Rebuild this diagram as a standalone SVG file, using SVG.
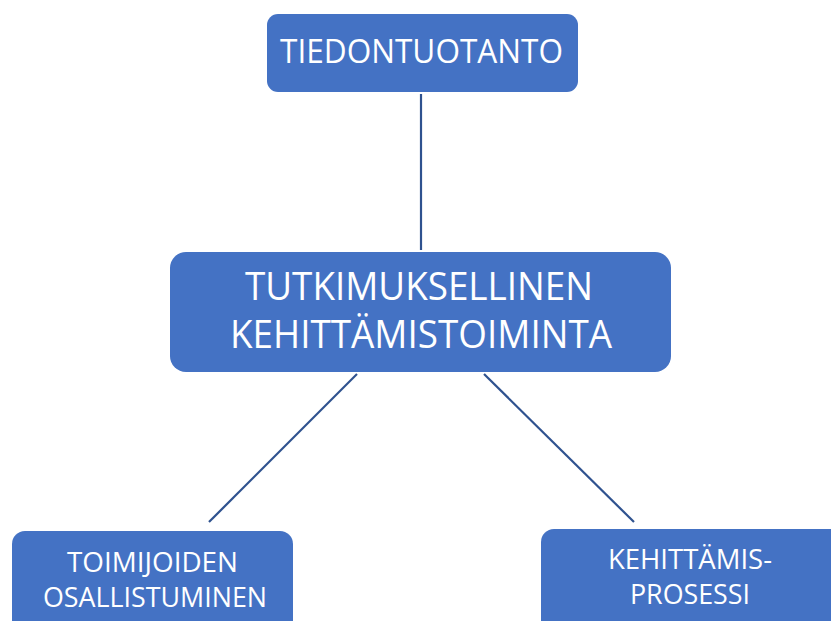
<svg xmlns="http://www.w3.org/2000/svg" width="831" height="621" viewBox="0 0 831 621">
<style>
.box{fill:#4472C4;}
.t{fill:#ffffff;font-family:"Open Sans","Liberation Sans",sans-serif;text-anchor:middle;}
.c{stroke:#2F528F;stroke-width:2.2;fill:none;}
</style>
<rect width="831" height="621" fill="#ffffff"/>
<g id="connectors">
<line class="c" x1="421" y1="94" x2="421" y2="250"/>
<line class="c" x1="357" y1="374" x2="209" y2="522"/>
<line class="c" x1="484" y1="374" x2="634" y2="522"/>
</g>
<g id="node-tiedontuotanto">
<rect class="box" x="267" y="14" width="311" height="78" rx="11"/>
<text class="t" x="421.5" y="63" font-size="33.5" textLength="283" lengthAdjust="spacingAndGlyphs">TIEDONTUOTANTO</text>
</g>
<g id="node-tutkimuksellinen">
<rect class="box" x="170" y="252" width="501" height="120" rx="16"/>
<text class="t" x="419" y="300" font-size="39" textLength="348" lengthAdjust="spacingAndGlyphs">TUTKIMUKSELLINEN</text>
<text class="t" x="421" y="348" font-size="39" textLength="382" lengthAdjust="spacingAndGlyphs">KEHITTÄMISTOIMINTA</text>
</g>
<g id="node-toimijoiden">
<rect class="box" x="12" y="531" width="281" height="120" rx="13"/>
<text class="t" x="152.5" y="572" font-size="28" textLength="171" lengthAdjust="spacingAndGlyphs">TOIMIJOIDEN</text>
<text class="t" x="155" y="607" font-size="28" textLength="224" lengthAdjust="spacingAndGlyphs">OSALLISTUMINEN</text>
</g>
<g id="node-kehittamisprosessi">
<rect class="box" x="541" y="529" width="310" height="120" rx="13"/>
<text class="t" x="690" y="569" font-size="27" textLength="164" lengthAdjust="spacingAndGlyphs">KEHITTÄMIS-</text>
<text class="t" x="690" y="604" font-size="27" textLength="120" lengthAdjust="spacingAndGlyphs">PROSESSI</text>
</g>
</svg>
